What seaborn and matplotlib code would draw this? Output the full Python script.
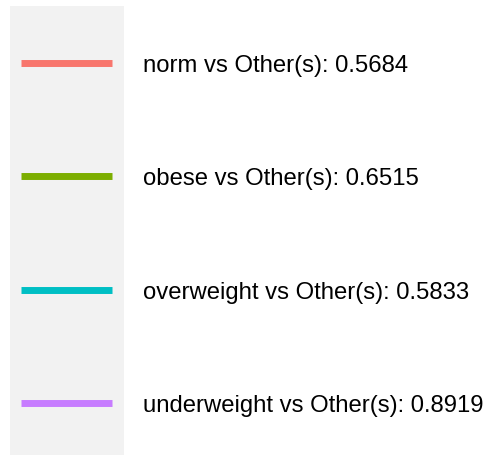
import matplotlib
matplotlib.use("Agg")
import matplotlib.pyplot as plt
import seaborn as sns
import pandas as pd
from matplotlib.patches import Rectangle

classes = ["norm", "obese", "overweight", "underweight"]
auc_values = [0.5684, 0.6515, 0.5833, 0.8919]
colors = ["#F8766D", "#7CAE00", "#00BFC4", "#C77CFF"]

sns.set_theme(style="white")
plt.rcParams["font.family"] = ["Liberation Sans", "DejaVu Sans"]

W, H = 488, 455
fig = plt.figure(figsize=(W / 100, H / 100), dpi=100)
ax = fig.add_axes([0, 0, 1, 1])
ax.set_xlim(0, W)
ax.set_ylim(H, 0)
ax.axis("off")

# legend key background
ax.add_patch(Rectangle((10, 6), 114, 449, facecolor="#F2F2F2", edgecolor="none", zorder=0))

y0, dy = 63, 113.4
labels = [f"{c} vs Other(s): {v:.4f}" for c, v in zip(classes, auc_values)]
rows = []
for i, lab in enumerate(labels):
    for x in (21, 112):
        rows.append({"x": x, "y": y0 + i * dy, "label": lab})
df = pd.DataFrame(rows)

sns.lineplot(data=df, x="x", y="y", hue="label", palette=colors, linewidth=5.0,
             legend=False, ax=ax, solid_capstyle="butt", estimator=None, sort=False)
ax.set_xlim(0, W)
ax.set_ylim(H, 0)
ax.axis("off")

for i, lab in enumerate(labels):
    ax.text(143, y0 + i * dy + 9, lab, fontsize=17.2, color="black", va="baseline", ha="left")

fig.savefig("out.png", dpi=100)
